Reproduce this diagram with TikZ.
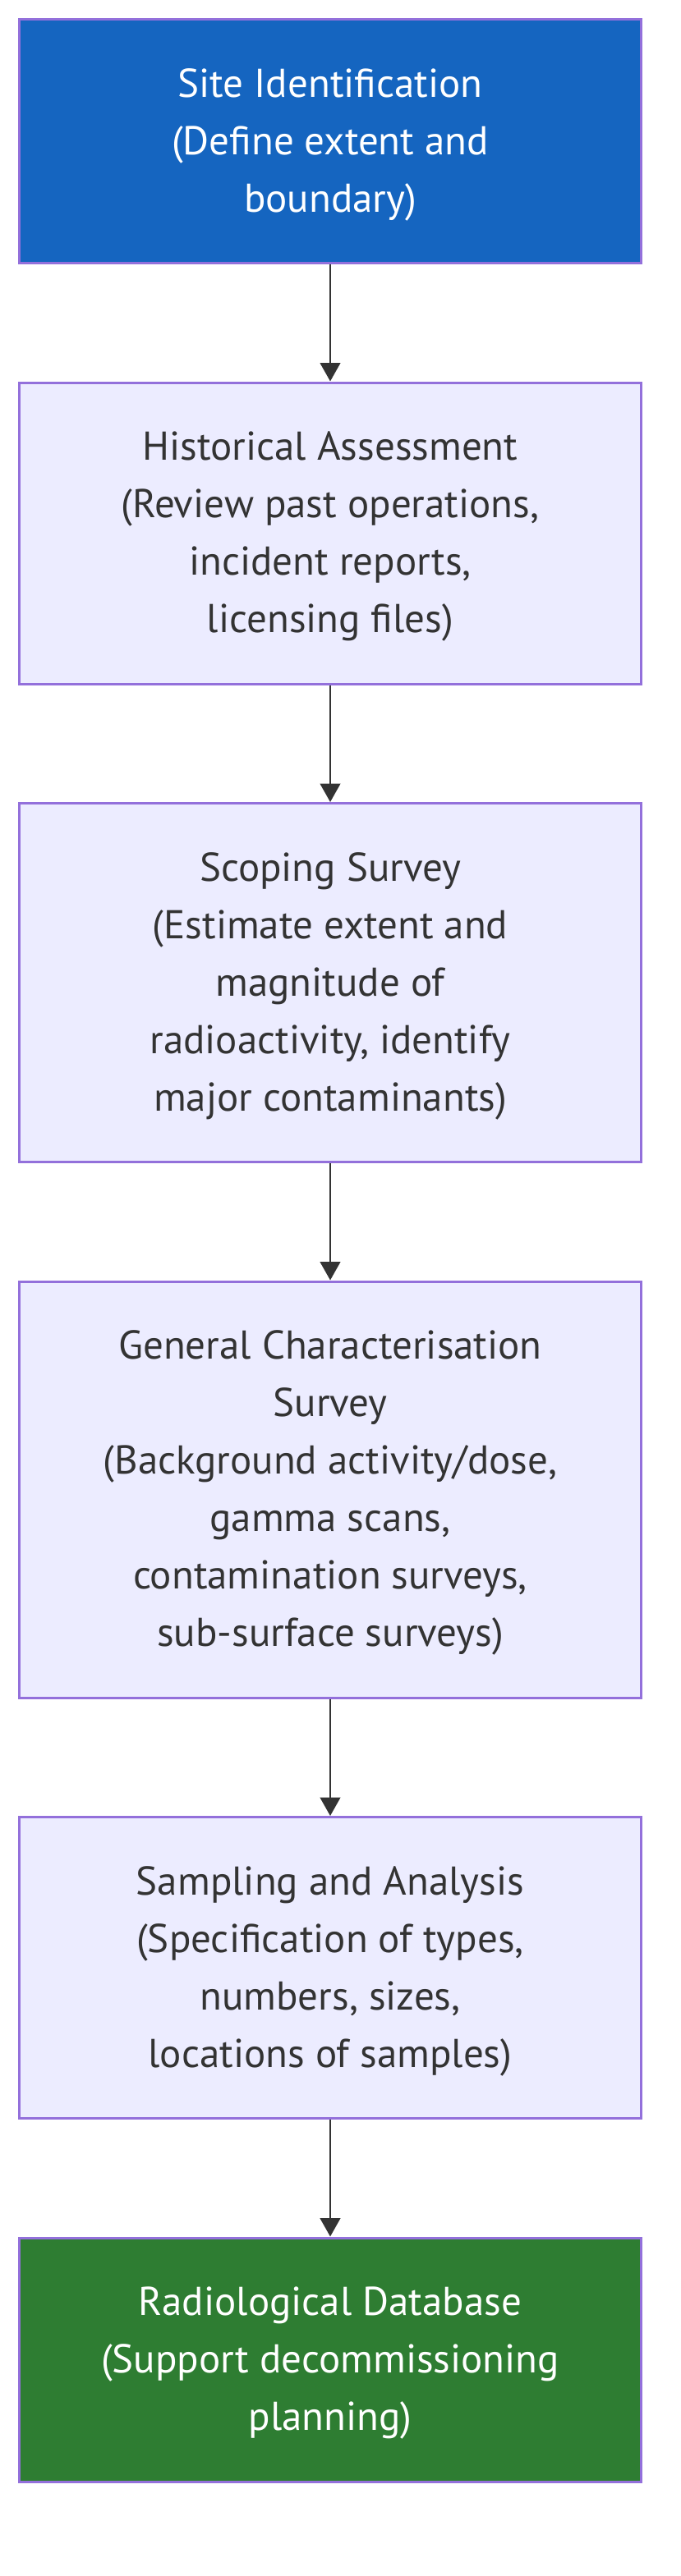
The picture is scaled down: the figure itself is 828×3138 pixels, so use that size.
\documentclass[tikz,border=0pt]{standalone}
\usepackage{fontspec}
\setmainfont{PT Sans}
\usetikzlibrary{arrows.meta}
\definecolor{boxfill}{HTML}{ECECFF}
\definecolor{boxline}{HTML}{9370DB}
\definecolor{txtgray}{HTML}{333333}
\definecolor{bluefill}{HTML}{1565C0}
\definecolor{greenfill}{HTML}{2E7D32}
\newcommand\mytopstrut{\rule{0pt}{43pt}}
\tikzset{
  flowbox/.style={rectangle, draw=boxline, line width=3pt, fill=boxfill,
    text=txtgray, minimum width=757pt, inner sep=0pt, align=center,
    font=\fontsize{49}{70}\selectfont},
  bluebox/.style={flowbox, fill=bluefill, text=white},
  greenbox/.style={flowbox, fill=greenfill, text=white},
  flowarrow/.style={draw=txtgray, line width=2.9pt,
    -{Triangle[length=22.5pt,width=24.5pt]}}
}
\begin{document}
\begin{tikzpicture}[x=1pt,y=-1pt]
\useasboundingbox[fill=white] (0,0) rectangle (828,3138);
\node[bluebox, minimum height=297pt] (b1) at (402,172)
  {\mytopstrut Site Identification\\(Define extent and\\boundary)};
\node[flowbox, minimum height=367pt] (b2) at (402,649.5)
  {\mytopstrut Historical Assessment\\(Review past operations,\\incident reports,\\licensing files)};
\node[flowbox, minimum height=437pt] (b3) at (402,1197)
  {\mytopstrut Scoping Survey\\(Estimate extent and\\magnitude of\\radioactivity, identify\\major contaminants)};
\node[flowbox, minimum height=507pt] (b4) at (402,1814.5)
  {\mytopstrut General Characterisation\\Survey\\(Background activity/dose,\\gamma scans,\\contamination surveys,\\sub-surface surveys)};
\node[flowbox, minimum height=367pt] (b5) at (402,2397)
  {\mytopstrut Sampling and Analysis\\(Specification of types,\\numbers, sizes,\\locations of samples)};
\node[greenbox, minimum height=297pt] (b6) at (402,2874.5)
  {\mytopstrut Radiological Database\\(Support decommissioning\\planning)};
\draw[flowarrow] (b1) -- (b2);
\draw[flowarrow] (b2) -- (b3);
\draw[flowarrow] (b3) -- (b4);
\draw[flowarrow] (b4) -- (b5);
\draw[flowarrow] (b5) -- (b6);
\end{tikzpicture}
\end{document}
